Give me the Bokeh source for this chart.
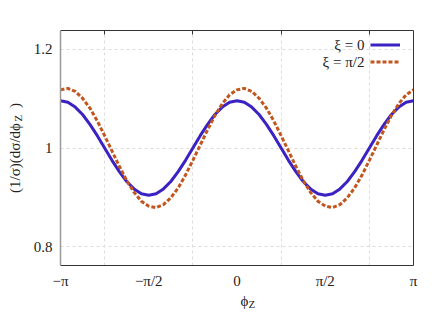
import numpy as np
from bokeh.plotting import figure
from bokeh.models import Range1d, FixedTicker, LinearAxis, Legend, LegendItem, Title, Label
from bokeh.embed import file_html
from bokeh.resources import INLINE

# phi_Z sampled in steps of pi/24 from -pi to pi
phi_steps = list(range(-24, 25))
phi = [k * np.pi / 24 for k in phi_steps]

# (1/sigma)(dsigma/dphi_Z)
xi_0 = [1.096, 1.093, 1.083, 1.068, 1.048, 1.025, 1.000, 0.975, 0.952, 0.932, 0.917, 0.907, 0.904,
        0.907, 0.917, 0.932, 0.952, 0.975, 1.000, 1.025, 1.048, 1.068, 1.083, 1.093, 1.096,
        1.093, 1.083, 1.068, 1.048, 1.025, 1.000, 0.975, 0.952, 0.932, 0.917, 0.907, 0.904,
        0.907, 0.917, 0.932, 0.952, 0.975, 1.000, 1.025, 1.048, 1.068, 1.083, 1.093, 1.096]
xi_pi2 = [1.118, 1.121, 1.115, 1.101, 1.081, 1.055, 1.025, 0.994, 0.963, 0.934, 0.910, 0.892, 0.882,
          0.879, 0.885, 0.899, 0.919, 0.945, 0.975, 1.006, 1.037, 1.066, 1.090, 1.108, 1.118,
          1.121, 1.115, 1.101, 1.081, 1.055, 1.025, 0.994, 0.963, 0.934, 0.910, 0.892, 0.882,
          0.879, 0.885, 0.899, 0.919, 0.945, 0.975, 1.006, 1.037, 1.066, 1.090, 1.108, 1.118]

series_labels = ["ξ = 0", "ξ = π/2"]
x_tick_values = [-np.pi, -np.pi / 2, 0.0, np.pi / 2, np.pi]
x_tick_labels = ["−π", "−π/2", "0", "π/2", "π"]
x_grid_values = [-3 * np.pi / 4, -np.pi / 4, np.pi / 4, 3 * np.pi / 4]
y_tick_values = [0.8, 1.0, 1.2]
y_tick_labels = ["0.8", "1", "1.2"]

FONT = "Liberation Serif"
TXT = "#222222"
BLUE = "#3b22c2"
ORANGE = "#c2561f"
FRAME = "#333333"
EN = "\u2002"

p = figure(width=430, height=320,
           x_range=Range1d(-np.pi, np.pi), y_range=Range1d(0.7615, 1.2385),
           output_backend="svg", toolbar_location=None,
           min_border_left=60, min_border_right=17, min_border_top=30, min_border_bottom=55)
p.outline_line_color = None
p.background_fill_color = "white"
p.border_fill_color = "white"

# bottom axis
p.xaxis.ticker = FixedTicker(ticks=x_tick_values)
p.xaxis.major_label_overrides = dict(zip(x_tick_values, x_tick_labels))
p.xaxis.major_tick_line_color = None
p.xaxis.major_tick_out = 0
p.xaxis.major_tick_in = 0
p.xaxis.minor_tick_line_color = None
p.xaxis.axis_line_color = FRAME
p.xaxis.major_label_standoff = 7
p.xaxis.major_label_text_font = FONT
p.xaxis.major_label_text_font_size = "15px"
p.xaxis.major_label_text_color = TXT

# left axis
p.yaxis.ticker = FixedTicker(ticks=y_tick_values)
p.yaxis.major_label_overrides = dict(zip(y_tick_values, y_tick_labels))
p.yaxis.major_tick_line_color = None
p.yaxis.major_tick_out = 0
p.yaxis.major_tick_in = 0
p.yaxis.minor_tick_line_color = None
p.yaxis.axis_line_color = "#9a9a9a"
p.yaxis.axis_line_width = 1.5
p.yaxis.major_label_standoff = 8
p.yaxis.major_label_text_font = FONT
p.yaxis.major_label_text_font_size = "15px"
p.yaxis.major_label_text_color = TXT
p.yaxis.axis_label = "(1/σ)(dσ/dϕ" + EN + EN + ")"
p.yaxis.axis_label_standoff = 8
p.yaxis.axis_label_text_font = FONT
p.yaxis.axis_label_text_font_size = "15px"
p.yaxis.axis_label_text_font_style = "normal"
p.yaxis.axis_label_text_color = TXT

# x axis title with subscript, and subscript of the y axis title
p.add_layout(Title(text="ϕ", align="left", offset=180, vertical_align="top", standoff=2,
                   text_font=FONT, text_font_size="15px", text_font_style="normal",
                   text_color=TXT), "below")
p.add_layout(Title(text="Z", align="left", offset=188, vertical_align="top", standoff=-27,
                   text_font=FONT, text_font_size="11px", text_font_style="normal",
                   text_color=TXT), "below")
p.add_layout(Title(text="Z", align="left", offset=144, vertical_align="bottom", standoff=-41,
                   text_font=FONT, text_font_size="11px", text_font_style="normal",
                   text_color=TXT), "left")

# top axis with inward ticks at the grid positions
top = LinearAxis(ticker=FixedTicker(ticks=x_grid_values), major_tick_in=4, major_tick_out=0,
                 major_tick_line_color=FRAME, minor_tick_line_color=None,
                 axis_line_color=FRAME,
                 major_label_overrides={t: "" for t in x_grid_values})
p.add_layout(top, "above")
right = LinearAxis(ticker=FixedTicker(ticks=[]), major_tick_line_color=None,
                   minor_tick_line_color=None, axis_line_color=FRAME)
p.add_layout(right, "right")

# grids
p.xgrid.ticker = FixedTicker(ticks=x_grid_values)
p.ygrid.ticker = FixedTicker(ticks=y_tick_values)
for g in (p.xgrid, p.ygrid):
    g.grid_line_color = "#dddddd"
    g.grid_line_dash = "3 3"
    g.grid_line_width = 1

r0 = p.line(phi, xi_0, line_color=BLUE, line_width=3)
r1 = p.line(phi, xi_pi2, line_color=ORANGE, line_width=3, line_dash="4 2")

# legend: line samples on the right, texts to their left
legend = Legend(items=[LegendItem(label=" ", renderers=[r0]),
                       LegendItem(label=" ", renderers=[r1])],
                location=(310, 195.5), glyph_width=30, glyph_height=17, label_height=17,
                label_standoff=0, spacing=0, padding=0, margin=0,
                border_line_color=None, background_fill_alpha=0,
                label_text_font=FONT, label_text_font_size="15px")
p.add_layout(legend)
for txt, yy in zip(series_labels, [221, 204]):
    p.add_layout(Label(x=304, y=yy, x_units="screen", y_units="screen", text=txt,
                       text_align="right", text_baseline="middle", text_font=FONT,
                       text_font_size="15px", text_color=TXT))

open("out.html", "w").write(file_html(p, INLINE))
